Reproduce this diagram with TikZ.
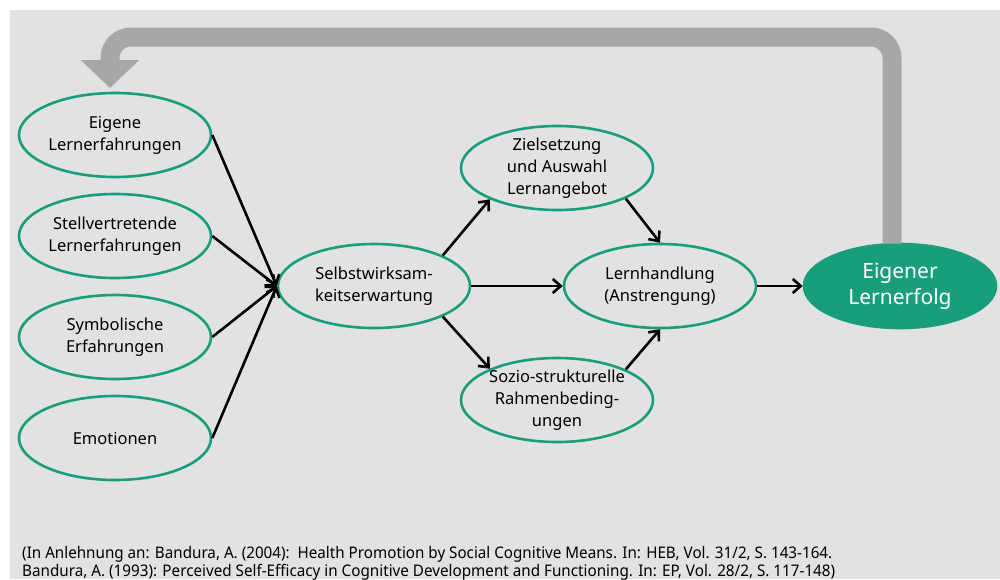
\documentclass[tikz,border=0pt]{standalone}
\usepackage{fontspec}
\setmainfont{Noto Sans}
\usetikzlibrary{shapes.geometric,arrows.meta,positioning}
\definecolor{hintergrund}{RGB}{225,226,225}
\definecolor{lerngruen}{RGB}{24,158,123}
\definecolor{pfeilgrau}{RGB}{167,167,167}
\begin{document}
\begin{tikzpicture}[x=1pt,y=-1pt,
    feld/.style={ellipse,draw=lerngruen,line width=2.6pt,minimum width=192pt,minimum height=84pt,inner sep=-15pt,align=center,font=\fontsize{16.5}{22}\selectfont},
    erfolg/.style={feld,fill=lerngruen,text=white,font=\fontsize{21}{26}\selectfont},
    pfeil/.style={-{Straight Barb[length=8pt,width=14pt]},line width=2.6pt},
    rueck/.style={pfeilgrau,line width=19pt,rounded corners=21pt,-{Triangle[width=57pt,length=28pt]}},
    quelle/.style={anchor=base west,inner sep=0pt,font=\fontsize{16}{19}\selectfont}]
    \useasboundingbox (0,0) rectangle (1000,579);
    \fill[hintergrund] (10,10) rectangle (1000,579);
    \foreach \t [count=\i] in {{Eigene\\Lernerfahrungen},{Stellvertretende\\Lernerfahrungen},{Symbolische\\Erfahrungen},{Emotionen}}{%
        \node[feld] (Q-\i) at (115,{34+101*\i}) {\t};
    }
    \node[feld] (S) at (374,286) {Selbstwirksam-\\keitserwartung};
    \node[feld] (Z) at (557,168) {Zielsetzung\\und Auswahl\\Lernangebot};
    \node[feld] (H) at (660,286) {Lernhandlung\\(Anstrengung)};
    \node[feld] (R) at (557,400) {Sozio-strukturelle\\Rahmenbeding-\\ungen};
    \node[erfolg] (E) at (900,286) {Eigener\\Lernerfolg};
    \foreach \i in {1,...,4}{%
        \draw[pfeil] (Q-\i.east) -- (S.west);
    }
    \draw[pfeil] (S.24) -- (Z.205);
    \draw[pfeil] (S.east) -- (H.west);
    \draw[pfeil] (S.-24) -- (R.155);
    \draw[pfeil] (Z.-24) -- (H.north);
    \draw[pfeil] (R.24) -- (H.south);
    \draw[pfeil] (H.east) -- (E.west);
    \coordinate (F) at ([xshift=-8pt,yshift=-1pt]E.north);
    \draw[rueck] (F) |- (110,37) -- (110,88);
    \node[quelle] (B-1) at (22,558) {\resizebox{810pt}{\height}{(In Anlehnung an: Bandura, A. (2004):\ \ Health Promotion by Social Cognitive Means. In: HEB, Vol. 31/2, S. 143-164.}};
    \node[quelle] (B-2) at (22,576) {\resizebox{813pt}{\height}{Bandura, A. (1993): Perceived Self-Efficacy in Cognitive Development and Functioning. In: EP, Vol. 28/2, S. 117-148)}};
\end{tikzpicture}
\end{document}
